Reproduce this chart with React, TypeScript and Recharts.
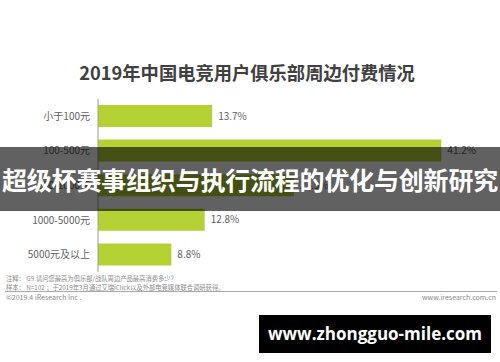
import { BarChart, Bar, XAxis, YAxis, LabelList } from "recharts";

// 2019年中国电竞用户俱乐部周边付费情况 (iResearch)
const CATEGORIES = ["小于100元", "100-500元", "500-1000元", "1000-5000元", "5000元及以上"];
const SHARES = [13.7, 41.2, 23.5, 12.8, 8.8];

const NOTE_LINES = [
  "注释：  G9.请问您最高为俱乐部/战队周边产品最高消费多少？",
  "样本：  N=102 ；于2019年3月通过艾瑞iClick以及外部电竞媒体联合调研获得。",
];

const FONT = '"Noto Sans CJK SC", "Noto Sans", sans-serif';

export default function App() {
  const data = CATEGORIES.map((name, i) => ({ name, pct: SHARES[i] }));

  return (
    <div
      style={{
        position: "absolute",
        left: 0,
        top: 0,
        width: 500,
        height: 362,
        background: "#fff",
        fontFamily: FONT,
        overflow: "hidden",
      }}
    >
      <div
        style={{
          position: "absolute",
          top: 60,
          left: 0,
          width: 494,
          textAlign: "center",
          fontSize: 18.3,
          fontWeight: 700,
          color: "#404040",
          lineHeight: "24px",
          whiteSpace: "nowrap",
        }}
      >
        2019年中国电竞用户俱乐部周边付费情况
      </div>

      <BarChart
        width={500}
        height={362}
        data={data}
        layout="vertical"
        margin={{ top: 99, right: 27, bottom: 90, left: 0 }}
        barCategoryGap={12}
        style={{ position: "absolute", left: 0, top: 0 }}
      >
        <XAxis type="number" domain={[0, 45]} hide />
        <YAxis
          type="category"
          dataKey="name"
          width={98}
          tickLine={false}
          tickSize={0}
          tickMargin={8}
          axisLine={{ stroke: "#9a9a9a" }}
          tick={{ fontSize: 10, fill: "#5f5f5f", fontFamily: FONT }}
        />
        <Bar dataKey="pct" fill="#b4d234" barSize={22} isAnimationActive={false}>
          <LabelList
            dataKey="pct"
            position="right"
            offset={6}
            formatter={(v: number) => `${v}%`}
            style={{ fontSize: 10, fill: "#5f5f5f", fontFamily: FONT }}
          />
        </Bar>
      </BarChart>

      {NOTE_LINES.map((t, i) => (
        <div
          key={i}
          style={{
            position: "absolute",
            left: 6,
            top: 274 + i * 8.5,
            fontSize: 6.3,
            lineHeight: "9px",
            color: "#8a8a8a",
            whiteSpace: "nowrap",
          }}
        >
          {t}
        </div>
      ))}
      <div
        style={{
          position: "absolute",
          left: 5,
          top: 291,
          width: 492,
          height: 1,
          background: "#a8a8a8",
        }}
      />
      <div style={{ position: "absolute", left: 6, top: 293, fontSize: 7, lineHeight: "9px", color: "#8a8a8a" }}>
        ©2019.4 iResearch Inc .
      </div>
      <div style={{ position: "absolute", right: 4, top: 293, fontSize: 7, lineHeight: "9px", color: "#8a8a8a" }}>
        www.iresearch.com.cn
      </div>

      {/* overlay banner */}
      <div
        style={{
          position: "absolute",
          left: 0,
          top: 147,
          width: 500,
          height: 64,
          background: "rgba(0,0,0,0.62)",
          color: "#fff",
          fontSize: 25,
          fontWeight: 700,
          lineHeight: "64px",
          textAlign: "center",
          whiteSpace: "nowrap",
          letterSpacing: -0.2,
        }}
      >
        超级杯赛事组织与执行流程的优化与创新研究
      </div>

      {/* watermark */}
      <div
        style={{
          position: "absolute",
          left: 259,
          top: 315,
          width: 232,
          height: 38,
          background: "#000",
          color: "#fff",
          fontSize: 17,
          fontWeight: 700,
          lineHeight: "38px",
          textAlign: "center",
          whiteSpace: "nowrap",
          fontFamily: '"Open Sans", "Noto Sans", sans-serif',
        }}
      >
        www.zhongguo-mile.com
      </div>
    </div>
  );
}
